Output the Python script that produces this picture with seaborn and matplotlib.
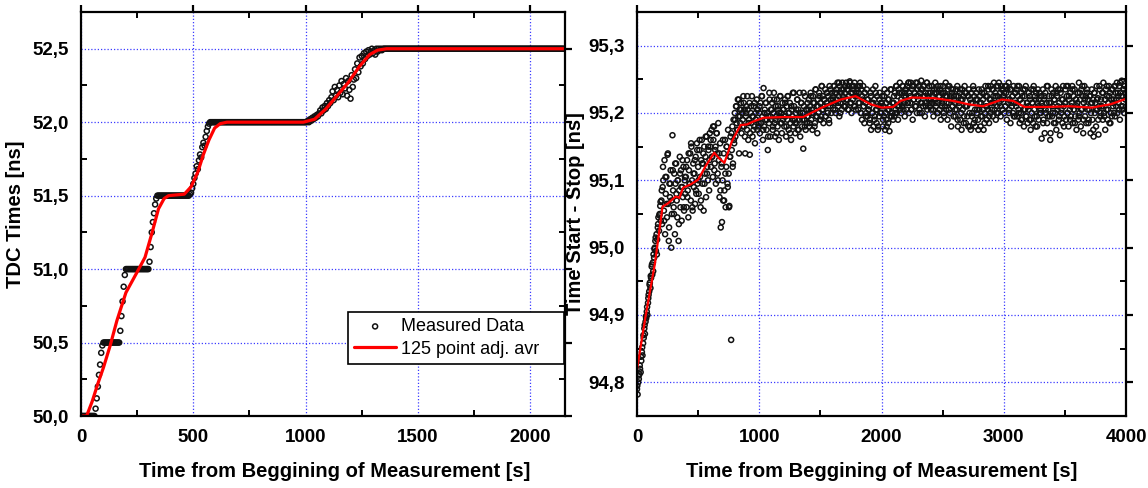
import numpy as np
import pandas as pd
import matplotlib
matplotlib.use("Agg")
import matplotlib.pyplot as plt
import seaborn as sns
from matplotlib.ticker import MultipleLocator, FuncFormatter

# ---------------- data ----------------
# Left panel: TDC times, sampled every 5 s
left_step = 5
left_measured = (
    [50.0] * 13
    + [50.05, 50.12, 50.20, 50.28, 50.35, 50.43, 50.48]
    + [50.5] * 15
    + [50.58, 50.68, 50.78, 50.88, 50.96]
    + [51.0] * 21
    + [51.05, 51.15, 51.25, 51.32, 51.38, 51.44, 51.48, 51.50]
    + [51.5] * 28
    + [51.51, 51.52, 51.55, 51.58, 51.62, 51.65, 51.70, 51.68, 51.74, 51.78, 51.76,
       51.83, 51.86, 51.84, 51.90, 51.94, 51.97, 51.99, 52.0, 52.0, 52.0]
    + [52.0] * 83
    + [52.00, 52.01, 52.00, 52.02, 52.01, 52.03, 52.02, 52.04, 52.03, 52.05,
       52.04, 52.06, 52.08, 52.06, 52.10, 52.08, 52.11, 52.09, 52.13, 52.11,
       52.15, 52.13, 52.17, 52.21, 52.15, 52.24, 52.18, 52.22, 52.17, 52.25,
       52.20, 52.28, 52.19, 52.26, 52.23, 52.30, 52.18, 52.28, 52.22, 52.16,
       52.32, 52.24, 52.29, 52.36, 52.30, 52.40, 52.34, 52.44, 52.38, 52.45,
       52.40, 52.47, 52.43, 52.48, 52.45, 52.49, 52.46, 52.48, 52.50, 52.47,
       52.49, 52.46, 52.50, 52.48, 52.50, 52.49, 52.50, 52.49, 52.50, 52.50]
    + [52.5] * 160
)
left_avg_t = [0, 25, 50, 75, 100, 130, 160, 200, 250, 285, 315, 345, 370, 390, 460,
              490, 520, 545, 570, 595, 620, 650, 990, 1040, 1090, 1140, 1190, 1240,
              1285, 1320, 1360, 2160]
left_avg_y = [50.0, 50.0, 50.1, 50.22, 50.33, 50.48, 50.65, 50.84, 50.98, 51.08, 51.24,
              51.41, 51.48, 51.50, 51.51, 51.56, 51.66, 51.78, 51.88, 51.96, 51.99, 52.0,
              52.0, 52.02, 52.09, 52.18, 52.27, 52.38, 52.46, 52.49, 52.5, 52.5]

# Right panel: Start-Stop time, samples every 5 s (series a) ...
right_step = 5
right_measured = [
 94.790, 94.782, 94.800, 94.805, 94.812, 94.820, 94.815, 94.832, 94.845, 94.840, 94.858, 94.866, 94.880, 94.872, 94.890, 94.895, 94.905, 94.900, 94.918, 94.930,
 94.935, 94.948, 94.940, 94.955, 94.972, 94.960, 94.978, 94.990, 94.985, 95.000, 95.010, 94.995, 95.020, 95.012, 95.030, 95.045, 95.025, 95.050, 95.062, 95.040,
 95.070, 95.035, 95.090, 95.100, 95.055, 95.130, 95.020, 95.080, 95.105, 95.045, 95.138, 95.065, 95.010, 95.095, 95.075, 95.115, 95.000, 95.050, 95.167, 95.085,
 95.060, 95.110, 95.020, 95.095, 95.125, 95.070, 95.045, 95.100, 95.010, 95.085, 95.135, 95.060, 95.115, 95.040, 95.090, 95.075, 95.120, 95.055, 95.100, 95.080,
 95.105, 95.060, 95.130, 95.085, 95.045, 95.115, 95.095, 95.140, 95.070, 95.150, 95.100, 95.055, 95.125, 95.090, 95.110, 95.065, 95.135, 95.080, 95.155, 95.095,
 95.120, 95.080, 95.145, 95.105, 95.060, 95.130, 95.160, 95.095, 95.125, 95.055, 95.150, 95.110, 95.135, 95.075, 95.165, 95.120, 95.100, 95.145, 95.085, 95.170,
 95.150, 95.120, 95.175, 95.135, 95.105, 95.160, 95.180, 95.125, 95.145, 95.095, 95.170, 95.140, 95.110, 95.185, 95.130, 95.075, 95.155, 95.030, 95.120, 95.038,
 95.100, 95.070, 95.140, 95.085, 95.160, 95.060, 95.120, 95.150, 95.095, 95.175, 95.110, 95.062, 95.135, 95.165, 94.863, 95.145, 95.180, 95.125, 95.190, 95.155,
 95.200, 95.165, 95.210, 95.185, 95.175, 95.220, 95.195, 95.140, 95.205, 95.185, 95.215, 95.170, 95.200, 95.190, 95.225, 95.180, 95.205, 95.140, 95.195, 95.210,
 95.175, 95.205, 95.160, 95.190, 95.215, 95.170, 95.200, 95.185, 95.225, 95.165, 95.195, 95.210, 95.180, 95.155, 95.200, 95.190, 95.220, 95.175, 95.205, 95.185,
 95.200, 95.170, 95.215, 95.185, 95.225, 95.195, 95.160, 95.237, 95.180, 95.205, 95.190, 95.215, 95.175, 95.200, 95.145, 95.195, 95.185, 95.220, 95.165, 95.205,
 95.190, 95.215, 95.175, 95.200, 95.230, 95.185, 95.165, 95.210, 95.195, 95.220, 95.180, 95.205, 95.160, 95.195, 95.225, 95.185, 95.200, 95.170, 95.215, 95.190,
 95.205, 95.180, 95.220, 95.195, 95.165, 95.210, 95.190, 95.225, 95.175, 95.200, 95.215, 95.185, 95.160, 95.205, 95.195, 95.230, 95.180, 95.210, 95.190, 95.170,
 95.200, 95.185, 95.220, 95.175, 95.205, 95.190, 95.230, 95.165, 95.195, 95.215, 95.180, 95.200, 95.147, 95.210, 95.190, 95.225, 95.175, 95.205, 95.185, 95.215,
 95.195, 95.220, 95.180, 95.210, 95.230, 95.190, 95.205, 95.175, 95.225, 95.200, 95.215, 95.185, 95.235, 95.195, 95.210, 95.170, 95.220, 95.200, 95.230, 95.190,
 95.215, 95.195, 95.240, 95.205, 95.225, 95.185, 95.220, 95.210, 95.235, 95.195, 95.215, 95.230, 95.200, 95.225, 95.190, 95.240, 95.210, 95.220, 95.200, 95.230,
 95.225, 95.205, 95.240, 95.215, 95.230, 95.200, 95.235, 95.220, 95.245, 95.210, 95.225, 95.195, 95.240, 95.215, 95.230, 95.205, 95.245, 95.220, 95.235, 95.210,
 95.230, 95.210, 95.245, 95.220, 95.235, 95.205, 95.240, 95.225, 95.247, 95.215, 95.230, 95.200, 95.240, 95.220, 95.235, 95.210, 95.245, 95.225, 95.205, 95.230,
 95.225, 95.240, 95.205, 95.230, 95.215, 95.245, 95.200, 95.235, 95.190, 95.220, 95.240, 95.210, 95.185, 95.230, 95.215, 95.200, 95.235, 95.195, 95.220, 95.205,
 95.210, 95.190, 95.230, 95.175, 95.215, 95.200, 95.235, 95.180, 95.220, 95.195, 95.240, 95.205, 95.185, 95.225, 95.175, 95.210, 95.195, 95.230, 95.200, 95.215,
 95.200, 95.225, 95.180, 95.210, 95.195, 95.235, 95.175, 95.215, 95.190, 95.230, 95.205, 95.185, 95.220, 95.173, 95.210, 95.195, 95.235, 95.200, 95.215, 95.190,
 95.215, 95.195, 95.230, 95.205, 95.240, 95.200, 95.225, 95.190, 95.235, 95.210, 95.245, 95.215, 95.200, 95.230, 95.210, 95.240, 95.205, 95.225, 95.195, 95.235,
 95.225, 95.205, 95.240, 95.215, 95.245, 95.200, 95.230, 95.215, 95.245, 95.205, 95.235, 95.190, 95.240, 95.220, 95.230, 95.210, 95.245, 95.225, 95.200, 95.235,
 95.220, 95.240, 95.205, 95.230, 95.215, 95.248, 95.200, 95.235, 95.210, 95.225, 95.240, 95.195, 95.230, 95.215, 95.245, 95.205, 95.225, 95.220, 95.240, 95.210,
 95.230, 95.205, 95.240, 95.215, 95.225, 95.195, 95.235, 95.220, 95.245, 95.210, 95.230, 95.200, 95.240, 95.215, 95.225, 95.205, 95.235, 95.190, 95.230, 95.215,
 95.220, 95.240, 95.200, 95.230, 95.210, 95.245, 95.205, 95.225, 95.190, 95.235, 95.215, 95.240, 95.200, 95.225, 95.180, 95.230, 95.210, 95.235, 95.195, 95.220,
 95.215, 95.195, 95.235, 95.205, 95.240, 95.180, 95.225, 95.210, 95.230, 95.190, 95.220, 95.175, 95.235, 95.205, 95.225, 95.195, 95.240, 95.210, 95.185, 95.230,
 95.210, 95.225, 95.180, 95.235, 95.200, 95.220, 95.175, 95.230, 95.195, 95.215, 95.240, 95.185, 95.225, 95.205, 95.180, 95.230, 95.200, 95.220, 95.190, 95.235,
 95.205, 95.225, 95.180, 95.215, 95.235, 95.195, 95.220, 95.175, 95.230, 95.200, 95.240, 95.210, 95.190, 95.225, 95.205, 95.235, 95.185, 95.220, 95.200, 95.240,
 95.215, 95.235, 95.195, 95.225, 95.245, 95.205, 95.230, 95.190, 95.240, 95.210, 95.225, 95.200, 95.245, 95.215, 95.230, 95.195, 95.240, 95.220, 95.205, 95.235,
 95.225, 95.200, 95.240, 95.210, 95.230, 95.190, 95.235, 95.215, 95.245, 95.205, 95.220, 95.185, 95.235, 95.210, 95.225, 95.200, 95.240, 95.215, 95.195, 95.230,
 95.215, 95.235, 95.195, 95.225, 95.205, 95.240, 95.185, 95.220, 95.200, 95.230, 95.190, 95.215, 95.235, 95.180, 95.225, 95.205, 95.240, 95.195, 95.215, 95.185,
 95.210, 95.230, 95.190, 95.220, 95.175, 95.235, 95.200, 95.215, 95.185, 95.240, 95.205, 95.225, 95.180, 95.230, 95.195, 95.215, 95.235, 95.190, 95.220, 95.200,
 95.205, 95.225, 95.162, 95.210, 95.235, 95.190, 95.220, 95.170, 95.230, 95.200, 95.215, 95.185, 95.240, 95.205, 95.225, 95.195, 95.160, 95.215, 95.235, 95.195,
 95.210, 95.230, 95.185, 95.220, 95.200, 95.240, 95.175, 95.225, 95.205, 95.235, 95.190, 95.215, 95.167, 95.230, 95.200, 95.220, 95.185, 95.240, 95.210, 95.195,
 95.215, 95.235, 95.190, 95.225, 95.200, 95.240, 95.180, 95.220, 95.205, 95.230, 95.195, 95.215, 95.240, 95.185, 95.225, 95.205, 95.235, 95.195, 95.220, 95.175,
 95.210, 95.230, 95.190, 95.245, 95.200, 95.220, 95.180, 95.235, 95.205, 95.225, 95.170, 95.215, 95.240, 95.195, 95.225, 95.185, 95.230, 95.205, 95.220, 95.190,
 95.205, 95.225, 95.170, 95.215, 95.235, 95.190, 95.220, 95.165, 95.230, 95.200, 95.215, 95.180, 95.240, 95.205, 95.222, 95.168, 95.210, 95.235, 95.195, 95.220,
 95.210, 95.230, 95.190, 95.245, 95.200, 95.220, 95.175, 95.235, 95.205, 95.225, 95.190, 95.215, 95.240, 95.185, 95.230, 95.200, 95.220, 95.195, 95.235, 95.210,
 95.220, 95.240, 95.195, 95.230, 95.210, 95.245, 95.200, 95.225, 95.215, 95.240, 95.190, 95.230, 95.210, 95.248, 95.205, 95.225, 95.235, 95.200, 95.240, 95.220,
]
# ... and in-between samples every 10 s starting at 2.5 s (series b)
right_b_start = 2.5
right_b_step = 10
right_measured_b = [
 94.795, 94.810, 94.825, 94.838, 94.852, 94.870, 94.885, 94.898, 94.912, 94.925, 94.945, 94.958, 94.975, 94.965, 94.998, 95.015, 94.990, 95.035, 95.048, 95.068,
 95.085, 95.120, 95.040, 95.105, 95.065, 95.140, 95.030, 95.095, 95.070, 95.115, 95.050, 95.125, 95.080, 95.100, 95.035, 95.110, 95.090, 95.130, 95.060, 95.105,
 95.120, 95.075, 95.140, 95.095, 95.155, 95.060, 95.110, 95.130, 95.085, 95.145, 95.100, 95.160, 95.070, 95.125, 95.140, 95.095, 95.165, 95.110, 95.150, 95.130,
 95.160, 95.135, 95.180, 95.115, 95.150, 95.170, 95.100, 95.140, 95.085, 95.125, 95.160, 95.070, 95.110, 95.150, 95.090, 95.060, 95.135, 95.170, 95.120, 95.160,
 95.190, 95.210, 95.175, 95.220, 95.195, 95.205, 95.180, 95.215, 95.165, 95.200, 95.225, 95.185, 95.138, 95.210, 95.195, 95.175, 95.215, 95.190, 95.205, 95.180,
 95.210, 95.185, 95.225, 95.175, 95.200, 95.215, 95.190, 95.165, 95.230, 95.195, 95.205, 95.180, 95.220, 95.190, 95.170, 95.210, 95.200, 95.225, 95.185, 95.205,
 95.195, 95.215, 95.180, 95.225, 95.200, 95.170, 95.210, 95.190, 95.230, 95.185, 95.205, 95.220, 95.175, 95.200, 95.215, 95.190, 95.230, 95.180, 95.205, 95.195,
 95.205, 95.185, 95.225, 95.200, 95.215, 95.180, 95.235, 95.195, 95.210, 95.225, 95.190, 95.240, 95.205, 95.220, 95.195, 95.230, 95.210, 95.185, 95.235, 95.215,
 95.220, 95.240, 95.205, 95.230, 95.215, 95.245, 95.200, 95.235, 95.225, 95.210, 95.240, 95.220, 95.235, 95.205, 95.245, 95.215, 95.230, 95.240, 95.210, 95.225,
 95.235, 95.215, 95.240, 95.200, 95.225, 95.210, 95.230, 95.195, 95.220, 95.205, 95.185, 95.225, 95.200, 95.215, 95.190, 95.230, 95.205, 95.180, 95.220, 95.210,
 95.215, 95.190, 95.225, 95.200, 95.180, 95.220, 95.205, 95.235, 95.195, 95.215, 95.225, 95.200, 95.240, 95.210, 95.230, 95.205, 95.220, 95.240, 95.215, 95.230,
 95.235, 95.215, 95.245, 95.225, 95.205, 95.240, 95.220, 95.230, 95.210, 95.245, 95.225, 95.200, 95.235, 95.215, 95.240, 95.225, 95.210, 95.245, 95.230, 95.215,
 95.220, 95.240, 95.205, 95.230, 95.215, 95.235, 95.200, 95.225, 95.240, 95.210, 95.230, 95.195, 95.225, 95.215, 95.240, 95.205, 95.220, 95.235, 95.210, 95.225,
 95.205, 95.225, 95.190, 95.215, 95.235, 95.200, 95.220, 95.185, 95.230, 95.210, 95.195, 95.225, 95.180, 95.215, 95.200, 95.235, 95.190, 95.220, 95.205, 95.175,
 95.215, 95.195, 95.230, 95.205, 95.185, 95.225, 95.210, 95.240, 95.195, 95.220, 95.205, 95.235, 95.215, 95.225, 95.200, 95.240, 95.220, 95.210, 95.235, 95.225,
 95.230, 95.210, 95.240, 95.220, 95.200, 95.235, 95.215, 95.225, 95.195, 95.230, 95.210, 95.240, 95.200, 95.220, 95.190, 95.225, 95.205, 95.235, 95.195, 95.215,
 95.205, 95.225, 95.190, 95.215, 95.235, 95.195, 95.220, 95.180, 95.210, 95.230, 95.200, 95.215, 95.185, 95.225, 95.205, 95.240, 95.195, 95.215, 95.170, 95.225,
 95.200, 95.220, 95.185, 95.230, 95.210, 95.195, 95.235, 95.205, 95.220, 95.180, 95.215, 95.240, 95.200, 95.225, 95.190, 95.210, 95.235, 95.205, 95.185, 95.220,
 95.215, 95.195, 95.230, 95.205, 95.240, 95.190, 95.220, 95.210, 95.235, 95.185, 95.225, 95.200, 95.215, 95.175, 95.230, 95.205, 95.220, 95.190, 95.240, 95.200,
 95.210, 95.230, 95.195, 95.220, 95.240, 95.205, 95.225, 95.185, 95.235, 95.215, 95.200, 95.240, 95.220, 95.230, 95.205, 95.245, 95.225, 95.210, 95.235, 95.230,
]
right_avg_t = [0, 70, 147, 209, 255, 316, 347, 377, 439, 500, 561, 632, 669, 715, 776, 847,
               899, 960, 1037, 1206, 1359, 1512, 1666, 1788, 1911, 2003, 2095, 2156, 2248,
               2432, 2586, 2709, 2831, 2985, 3077, 3169, 3353, 3537, 3721, 3874, 4000]
right_avg_y = [94.819, 94.898, 94.977, 95.061, 95.066, 95.076, 95.074, 95.089, 95.094,
               95.101, 95.121, 95.141, 95.133, 95.126, 95.158, 95.182, 95.183, 95.188,
               95.193, 95.194, 95.194, 95.208, 95.220, 95.225, 95.213, 95.208, 95.209,
               95.218, 95.223, 95.222, 95.218, 95.213, 95.210, 95.220, 95.218, 95.209,
               95.209, 95.210, 95.208, 95.213, 95.221]

x_label = "Time from Beggining of Measurement [s]"
left_ylabel = "TDC Times [ns]"
right_ylabel = "Time Start - Stop [ns]"
legend_labels = ["Measured Data", "125 point adj. avr"]

# ---------------- build frames ----------------
left_df = pd.DataFrame({"t": np.arange(len(left_measured)) * left_step, "v": left_measured})
left_avg_df = pd.DataFrame({"t": left_avg_t, "v": left_avg_y})
right_df = pd.concat([
    pd.DataFrame({"t": np.arange(len(right_measured)) * right_step, "v": right_measured}),
    pd.DataFrame({"t": right_b_start + np.arange(len(right_measured_b)) * right_b_step,
                  "v": right_measured_b}),
], ignore_index=True)
right_avg_df = pd.DataFrame({"t": right_avg_t, "v": right_avg_y})

# ---------------- style ----------------
sns.set_theme(style="white")
plt.rcParams["font.family"] = ["Liberation Sans", "DejaVu Sans"]
plt.rcParams["font.weight"] = "bold"
plt.rcParams["axes.labelweight"] = "bold"
for k in ["text.color", "axes.labelcolor", "xtick.color", "ytick.color", "axes.edgecolor"]:
    plt.rcParams[k] = "black"

fig = plt.figure(figsize=(11.48, 4.88), dpi=100)
ax1 = fig.add_axes([81 / 1148, 72 / 488, 484 / 1148, 404 / 488])
ax2 = fig.add_axes([637 / 1148, 72 / 488, 489 / 1148, 404 / 488])


def style_axes(ax, xlim, ylim, xmaj, xmin, ymaj, ymin):
    ax.set_xlim(*xlim)
    ax.set_ylim(*ylim)
    ax.xaxis.set_major_locator(MultipleLocator(xmaj))
    ax.xaxis.set_minor_locator(MultipleLocator(xmin))
    ax.yaxis.set_major_locator(MultipleLocator(ymaj))
    ax.yaxis.set_minor_locator(MultipleLocator(ymin))
    ax.xaxis.set_major_formatter(FuncFormatter(lambda v, p: f"{v:.0f}"))
    ax.yaxis.set_major_formatter(FuncFormatter(lambda v, p: f"{v:.1f}".replace(".", ",")))
    ax.tick_params(which="major", direction="out", length=5, width=1.6,
                   top=True, right=True, labelsize=13.5, pad=4)
    ax.tick_params(which="minor", direction="in", length=4, width=1.4,
                   top=True, right=True, bottom=True, left=True)
    for s in ax.spines.values():
        s.set_linewidth(1.6)
        s.set_color("black")
    ax.set_axisbelow(True)
    ax.grid(True, which="major", color="#3c3cff", linestyle=(0, (1, 1.6)), linewidth=0.9)
    ax.set_xlabel(x_label, fontsize=14.5, fontweight="bold", labelpad=14)


scatter_kw = dict(marker="o", s=13, facecolor="none", edgecolor="#111111", linewidth=1.1)

sns.scatterplot(data=left_df, x="t", y="v", ax=ax1, label=legend_labels[0], **scatter_kw)
sns.lineplot(data=left_avg_df, x="t", y="v", ax=ax1, color="#ff0000", linewidth=2.3,
             label=legend_labels[1], sort=False)
style_axes(ax1, (0, 2155), (50.0, 52.75), 500, 250, 0.5, 0.25)
ax1.set_ylabel(left_ylabel, fontsize=14.5, fontweight="bold", labelpad=5)
ax1.xaxis.set_label_coords(0.525, -0.115)
leg = ax1.legend(loc="lower left", bbox_to_anchor=(0.5517, 0.129, 0.4453, 0.13),
                 mode="expand", frameon=True,
                 fancybox=False, framealpha=1, edgecolor="black", borderaxespad=0,
                 prop={"weight": "normal", "size": 13, "family": "Liberation Sans"},
                 handlelength=2.3, handletextpad=0.3, borderpad=0.35,
                 labelspacing=0.3, markerscale=1.0)
leg.get_frame().set_linewidth(1.2)

sns.scatterplot(data=right_df, x="t", y="v", ax=ax2, **scatter_kw)
sns.lineplot(data=right_avg_df, x="t", y="v", ax=ax2, color="#ff0000", linewidth=1.6, sort=False)
style_axes(ax2, (0, 4000), (94.75, 95.35), 1000, 500, 0.1, 0.05)
ax2.set_ylabel(right_ylabel, fontsize=14.5, fontweight="bold", labelpad=2)
ax2.xaxis.set_label_coords(0.5, -0.115)
if ax2.get_legend():
    ax2.get_legend().remove()

fig.savefig("out.png", dpi=100)
